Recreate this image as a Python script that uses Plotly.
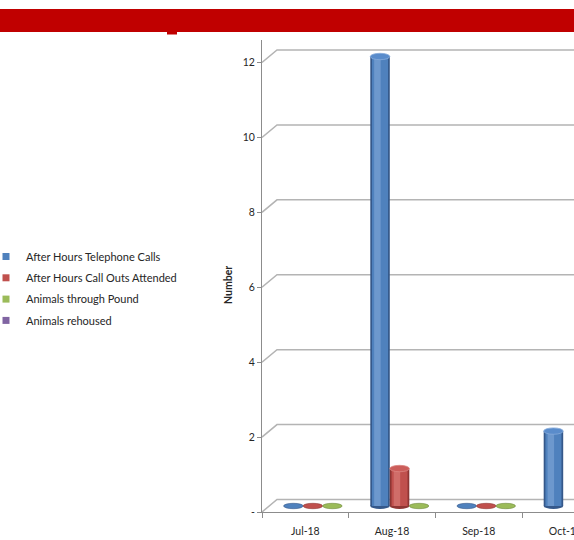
import plotly.graph_objects as go

# ---- data ----
months = ["Jul-18", "Aug-18", "Sep-18", "Oct-18"]
phone_calls = [0, 12, 0, 2]
call_outs = [0, 1, 0, None]
through_pound = [0, 0, 0, None]
rehoused = [None, None, None, None]

series_names = [
    "After Hours Telephone Calls",
    "After Hours Call Outs Attended",
    "Animals through Pound",
    "Animals rehoused",
]
series_values = [phone_calls, call_outs, through_pound, rehoused]
y_ticks = [0, 2, 4, 6, 8, 10, 12]
y_tick_text = ["-", "2", "4", "6", "8", "10", "12"]

# ---- styling ----
base = ["#4F81BD", "#C0504D", "#9BBB59", "#8064A2"]
edge = ["#35588A", "#8E3533", "#6E8A3C", "#5C4876"]
light = ["#86ABDB", "#DC8582", "#BCD48A", "#A592C0"]
cap = ["#5A8CCB", "#CB5D5A", "#A6C566", "#8C71AE"]
grid_col = "#B4B4B4"
axis_col = "#8C8C8C"
font_fam = "Lato, 'Open Sans', sans-serif"
txt_col = "#262626"

W, H = 574, 540
left_px, bottom_px, top_px = 262, 512, 40
px_per_unit = (512 - 62.5) / 12.0
cat_px = 86.7
# depth offsets (pixels) of the bar plane and the back wall
mid_dx, mid_dy = 7.5, 6.0
back_dx, back_dy = 15.0, 12.5

x_lo = -0.5
x_hi = x_lo + (W - left_px) / cat_px
y_hi = (bottom_px - top_px) / px_per_unit
x_dom = [left_px / W, 1.0]
y_dom = [(H - bottom_px) / H, (H - top_px) / H]

bar_w = 0.225
n_bar_series = 3

fig = go.Figure()

# columns (drawn on the bar plane: x2/y2)
for s in range(n_bar_series):
    vals = series_values[s]
    off = -bar_w * n_bar_series / 2 + s * bar_w
    xs = [m for m, v in zip(months, vals) if v is not None and v > 0]
    ys = [v for v in vals if v is not None and v > 0]
    layers = [
        (off, bar_w, edge[s], 1.0),
        (off + 0.02, bar_w - 0.04, base[s], 1.0),
        (off + 0.045, 0.075, light[s], 0.55),
    ]
    for lo, w, col, op in layers:
        fig.add_trace(go.Bar(
            x=xs, y=ys, xaxis="x2", yaxis="y2",
            offset=lo, width=w, marker=dict(color=col, line=dict(width=0)),
            opacity=op, showlegend=False, hoverinfo="skip",
        ))

# legend entries (also establish the front axis categories)
for s, name in enumerate(series_names):
    fig.add_trace(go.Scatter(
        x=months, y=[None] * len(months), mode="markers", name=name,
        legendgroup=f"g{s}",
        marker=dict(symbol="square", size=7, color=base[s]),
        xaxis="x", yaxis="y",
    ))

shapes = []
# back wall gridlines with the side-wall diagonal
for v in y_ticks:
    shapes.append(dict(
        type="path", xref="x", yref="y", xsizemode="pixel", ysizemode="pixel",
        xanchor=x_lo, yanchor=v,
        path=f"M0,0 L{back_dx},{back_dy} L{W},{back_dy}",
        line=dict(color=grid_col, width=1.5), layer="below",
    ))

# column caps and bottoms / flat discs for zero values
for s in range(n_bar_series):
    vals = series_values[s]
    off = -bar_w * n_bar_series / 2 + s * bar_w
    for i, v in enumerate(vals):
        if v is None:
            continue
        x0, x1 = i + off, i + off + bar_w
        if v == 0:
            shapes.append(dict(
                type="circle", xref="x2", yref="y2", ysizemode="pixel",
                yanchor=0, y0=-2.7, y1=2.7, x0=x0, x1=x1,
                fillcolor=base[s], line=dict(color=edge[s], width=0.6),
                layer="above",
            ))
        else:
            shapes.append(dict(
                type="circle", xref="x2", yref="y2", ysizemode="pixel",
                yanchor=0, y0=-3, y1=3, x0=x0, x1=x1,
                fillcolor=edge[s], line=dict(width=0), layer="below",
            ))
            shapes.append(dict(
                type="circle", xref="x2", yref="y2", ysizemode="pixel",
                yanchor=v, y0=-3.2, y1=3.2, x0=x0, x1=x1,
                fillcolor=cap[s], line=dict(color=light[s], width=0.8),
                layer="above",
            ))

# header band
shapes.append(dict(type="rect", xref="paper", yref="paper",
                   x0=0, x1=1, y0=(H - 32) / H, y1=(H - 9) / H,
                   fillcolor="#C00000", line=dict(width=0), layer="above"))
shapes.append(dict(type="rect", xref="paper", yref="paper",
                   x0=167 / W, x1=177 / W, y0=(H - 34.5) / H, y1=(H - 31) / H,
                   fillcolor="#C00000", line=dict(width=0), layer="above"))

fig.update_layout(
    width=W, height=H,
    margin=dict(l=0, r=0, t=0, b=0, autoexpand=False),
    paper_bgcolor="white", plot_bgcolor="rgba(0,0,0,0)",
    barmode="overlay",
    font=dict(family=font_fam, size=10, color=txt_col),
    shapes=shapes,
    annotations=[dict(
        text="<b>Number</b>", textangle=-90, xref="paper", yref="paper",
        x=228 / W, y=(H - 285) / H, showarrow=False,
        font=dict(size=10.5, color=txt_col),
    )],
    xaxis=dict(
        domain=x_dom, range=[x_lo, x_hi], type="category",
        categoryorder="array", categoryarray=months,
        showgrid=False, zeroline=False, showline=True,
        linecolor=axis_col, linewidth=1,
        ticks="outside", ticklen=5, tickcolor=axis_col, tickson="boundaries",
        ticklabelstandoff=9, automargin=False,
        tickfont=dict(size=10.5, color=txt_col), anchor="y",
    ),
    yaxis=dict(
        domain=y_dom, range=[0, y_hi], anchor="x",
        tickvals=y_ticks, ticktext=y_tick_text,
        showgrid=False, zeroline=False, showline=True,
        linecolor=axis_col, linewidth=1,
        ticks="outside", ticklen=4, tickcolor=axis_col, automargin=False,
        tickfont=dict(size=10.5, color=txt_col),
    ),
    xaxis2=dict(
        domain=x_dom, overlaying="x", type="category",
        categoryorder="array", categoryarray=months,
        range=[x_lo - mid_dx / cat_px, x_hi - mid_dx / cat_px],
        visible=False, anchor="y2",
    ),
    yaxis2=dict(
        domain=y_dom, overlaying="y",
        range=[-mid_dy / px_per_unit, y_hi - mid_dy / px_per_unit],
        visible=False, anchor="x2",
    ),
    legend=dict(
        x=-14 / W, y=(H - 242) / H, xanchor="left", yanchor="top",
        font=dict(size=11, color=txt_col), itemwidth=30,
        bgcolor="rgba(0,0,0,0)", tracegroupgap=2.3,
    ),
    showlegend=True,
)

fig.write_html("out.html")
